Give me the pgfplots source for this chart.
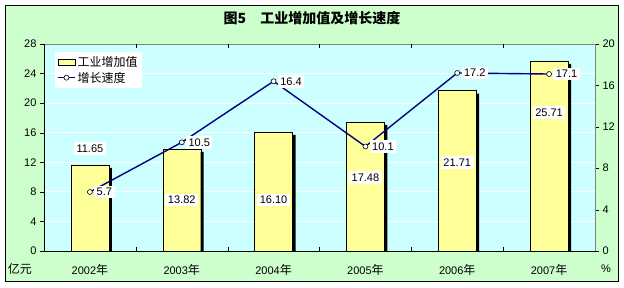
\documentclass[border=0pt]{standalone}
\usepackage{fontspec}
\setmainfont{Liberation Sans}
\newfontfamily\cjk{Noto Sans CJK SC}
\usepackage{pgfplots}
\pgfplotsset{compat=1.18}
\definecolor{bggreen}{HTML}{CCFFCC}
\definecolor{plotcyan}{HTML}{CCFFFF}
\definecolor{baryellow}{HTML}{FFFF99}
\definecolor{navyline}{HTML}{000080}
\pgfplotsset{/pgf/number format/assume math mode=true}
\begin{document}
\begin{tikzpicture}[x=1pt,y=1pt]
\fill[white] (0,0) rectangle (624,287);
\draw[black, fill=bggreen, line width=1pt] (5.5,5.5) rectangle (618.5,281.5);
\node[font=\cjk\bfseries\fontsize{14}{16}\selectfont] at (312,269) {图5\quad 工业增加值及增长速度};
\node[font=\cjk\fontsize{12}{14}\selectfont] at (20,18) {亿元};
\node[font=\fontsize{11}{13}\selectfont] at (606,18) {\%};
\begin{axis}[
  at={(44pt,36pt)}, anchor=south west, scale only axis,
  width=551pt, height=207pt,
  xmin=-0.5, xmax=5.5, ymin=0, ymax=28,
  ytick={0,4,...,28},
  axis background/.style={fill=plotcyan},
  axis line style={gray},
  ymajorgrids, grid style={white, line width=0.8pt},
  xtick={0,1,2,3,4,5},
  xticklabels={2002{\cjk\fontsize{12}{14}\selectfont 年},2003{\cjk\fontsize{12}{14}\selectfont 年},2004{\cjk\fontsize{12}{14}\selectfont 年},2005{\cjk\fontsize{12}{14}\selectfont 年},2006{\cjk\fontsize{12}{14}\selectfont 年},2007{\cjk\fontsize{12}{14}\selectfont 年}},
  xtick style={draw=none},
  xticklabel style={yshift=-6pt},
  extra x ticks={0.5,1.5,2.5,3.5,4.5},
  extra x tick labels={},
  extra x tick style={xtick style={draw=black}, tick align=inside, major tick length=4pt},
  ytick style={black},
  ytick pos=left,
  tick align=outside, major tick length=4pt,
  tick label style={font=\fontsize{11}{13}\selectfont},
  after end axis/.code={
    \draw[black] (rel axis cs:0,1) -- (rel axis cs:0,0) -- (rel axis cs:1,0);
  },
]
\addplot[ybar, bar width=38pt, fill=black, draw=none, bar shift=3pt, yshift=-3pt, forget plot]
  coordinates {(0,11.65) (1,13.82) (2,16.10) (3,17.48) (4,21.71) (5,25.71)};
\addplot[ybar, bar width=38pt, fill=baryellow, draw=black, bar shift=0pt]
  coordinates {(0,11.65) (1,13.82) (2,16.10) (3,17.48) (4,21.71) (5,25.71)};
\begin{scope}[every node/.style={fill=white, inner sep=2.5pt, font=\fontsize{11}{13}\selectfont}]
\node at (axis cs:0,13.9) {11.65};
\node at (axis cs:1,6.9) {13.82};
\node at (axis cs:2,6.9) {16.10};
\node at (axis cs:3,9.9) {17.48};
\node at (axis cs:4,12.0) {21.71};
\node at (axis cs:5,18.7) {25.71};
\end{scope}
\end{axis}
\begin{axis}[
  at={(44pt,36pt)}, anchor=south west, scale only axis,
  width=551pt, height=207pt,
  xmin=-0.5, xmax=5.5, ymin=0, ymax=20,
  axis x line=none, axis y line*=right,
  axis line style={gray},
  ytick={0,4,...,20}, ytick style={black},
  tick align=outside, major tick length=4pt,
  tick label style={font=\fontsize{11}{13}\selectfont},
  legend style={at={(0.02,0.961)}, anchor=north west, fill=white, draw=none,
    font=\cjk\fontsize{12}{14}\selectfont, inner sep=2pt, row sep=0pt},
  legend image code/.append style={},
  legend cell align=left,
]
\addlegendimage{area legend, fill=baryellow, draw=black}
\addlegendentry{工业增加值}
\addplot[navyline, line width=1.4pt, mark=*, mark size=2.5pt,
  mark options={fill=white, draw=black, line width=0.6pt},
  nodes near coords,
  point meta=y,
  every node near coord/.append style={anchor=west, xshift=4pt, fill=white, inner sep=2.5pt, text=black,
    font=\fontsize{11}{13}\selectfont, /pgf/number format/fixed, /pgf/number format/precision=1, /pgf/number format/fixed zerofill},
] coordinates {(0,5.7) (1,10.5) (2,16.4) (3,10.1) (4,17.2) (5,17.1)};
\addlegendentry{增长速度}
\end{axis}
\end{tikzpicture}
\end{document}
